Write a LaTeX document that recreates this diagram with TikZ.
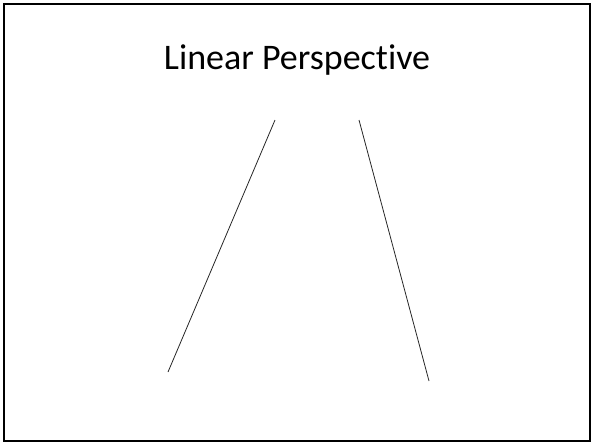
\documentclass[tikz,border=0pt]{standalone}
\usepackage{fontspec}
\setmainfont[Ligatures=NoCommon]{Carlito}
\usetikzlibrary{positioning}

\begin{document}
\begin{tikzpicture}[
  x=1pt, y=-1pt,
  frame/.style={draw=black, line width=2.5pt},
  title/.style={font=\fontsize{36}{42}\selectfont, anchor=base, inner sep=0pt},
  edge/.style={draw=black!85, line width=0.8pt},
]

% Canvas and frame
\useasboundingbox (0,0) rectangle (593,445);
\draw[frame] (4,4) rectangle (590,441);

% Title
\node[title] (heading) at (297,69) {Linear Perspective};

% Ends of the two converging lines
\coordinate (lefttop)  at (275,120);
\coordinate (leftbot)  at (168,372);
\coordinate (righttop) at (359,120);
\coordinate (rightbot) at (429,381);

\draw[edge] (lefttop) -- (leftbot);
\draw[edge] (righttop) -- (rightbot);

\end{tikzpicture}
\end{document}
